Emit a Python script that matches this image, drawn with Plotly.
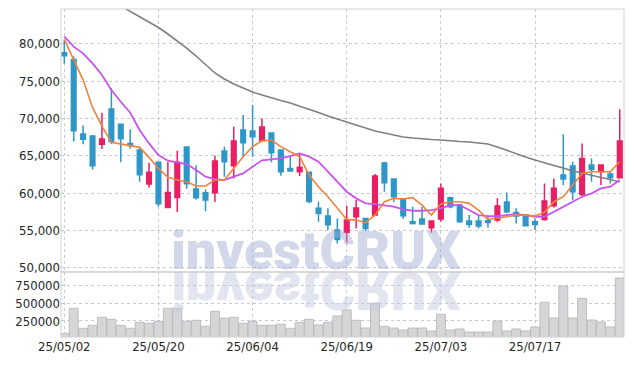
import base64
import plotly.graph_objects as go

dates = ["25/05/02","25/05/07","25/05/08","25/05/09","25/05/12","25/05/13","25/05/14","25/05/15","25/05/16","25/05/19",
         "25/05/20","25/05/21","25/05/22","25/05/23","25/05/26","25/05/27","25/05/28","25/05/29","25/05/30","25/06/02",
         "25/06/04","25/06/05","25/06/09","25/06/10","25/06/11","25/06/12","25/06/13","25/06/16","25/06/17","25/06/18",
         "25/06/19","25/06/20","25/06/23","25/06/24","25/06/25","25/06/26","25/06/27","25/06/30","25/07/01","25/07/02",
         "25/07/03","25/07/04","25/07/07","25/07/08","25/07/09","25/07/10","25/07/11","25/07/14","25/07/15","25/07/16",
         "25/07/17","25/07/18","25/07/21","25/07/22","25/07/23","25/07/24","25/07/25","25/07/28","25/07/29","25/07/30"]

opens = [78800,77900,67900,67630,66520,71250,69200,66650,65760,61210,
         64110,58080,59420,66160,60540,60040,60040,65620,63660,68440,
         68300,67010,68040,65760,63300,62860,62770,57950,56920,55040,
         54730,56830,56610,57050,64020,61880,59200,56160,56520,55360,
         56520,59380,58390,56250,56250,56290,56380,58790,57410,57050,
         56160,56470,58300,62410,63620,59820,63750,62860,62540,62050]
highs = [80500,78300,69050,67770,70760,74020,69200,68530,66030,64060,
         64200,64150,65670,66160,63700,60490,65040,66210,68880,70450,
         71790,70000,68040,65760,64870,65310,62770,58840,57950,56610,
         58300,59060,56610,62540,64200,61880,59290,58170,58170,56250,
         61290,59510,58530,57050,57050,56830,59290,60090,57950,57050,
         56610,61290,61960,67860,64200,66650,64640,63750,62860,71210]
lows = [77300,66900,66550,63170,65890,66560,64110,65940,61520,60760,
        58170,58080,57460,60580,59150,57550,58790,62190,61960,64870,
        64870,67010,64110,62320,62950,62280,58620,56160,55040,53260,
        53390,55270,54910,57050,60180,58840,56560,55800,55850,54690,
        56160,57950,56030,55360,55270,55360,56160,57280,55940,55620,
        55040,56290,58080,61070,59060,59510,61520,61070,61290,62050]
closes = [78400,68350,67200,63660,67230,66920,67280,66380,62460,62770,
          58570,60090,64110,61250,59380,59060,64290,64200,66960,66740,
          67540,68840,65400,62860,62950,63440,58880,57280,55760,53790,
          56380,57990,55270,62280,61380,59510,56960,55940,55850,56250,
          60630,58170,56160,55800,55580,56070,58260,57500,56920,55620,
          55800,58930,60630,61880,60180,64640,63170,63750,62050,66960]

ma5 = [80580,77810,75130,71470,68970,66790,66560,66430,66120,64780,
       63300,62100,61740,61520,60940,60940,61740,61740,63300,64870,
       66210,67010,67100,66210,65540,64870,62410,60850,59510,57950,
       56470,56380,56030,57050,58840,59290,59200,59380,58390,57050,
       58530,58840,58840,58620,57720,56470,56610,56830,57050,57050,
       56920,57410,58840,59510,61070,62630,62860,62860,62860,64200]
ma10 = [80940,79600,78710,77370,75800,73790,72230,70760,68440,66650,
        65090,64330,64110,63880,63080,62190,61880,61740,62190,62630,
        63530,64380,64510,64640,64960,65310,64870,64200,62860,61520,
        60180,59290,58620,58530,58390,58170,57810,57630,57630,57720,
        57950,58390,58390,57720,57050,56920,56920,57050,57190,57050,
        56830,56830,57500,58170,58840,59510,59960,60630,60850,61740]
ma_long = [None,None,None,None,None,None,85050,84310,83580,82910,
           82170,81300,80360,79420,78350,77150,76080,75270,74600,74070,
           73530,73130,72730,72390,72060,71660,71260,70790,70320,69920,
           69520,69050,68650,68310,68040,67780,67510,67370,67240,67170,
           67110,66970,66900,66840,66700,66570,66170,65700,65230,64830,
           64430,64020,63690,63360,62960,62690,62350,62080,61820,61480]

volume = [75000,429000,146000,188000,302000,273000,188000,146000,231000,217000,
          245000,429000,429000,245000,259000,174000,387000,288000,302000,217000,
          245000,188000,188000,203000,146000,231000,273000,193000,231000,320000,
          405000,259000,150000,500000,174000,150000,122000,150000,150000,108000,
          344000,122000,136000,93000,93000,93000,249000,108000,136000,108000,
          164000,514000,292000,745000,292000,571000,263000,235000,164000,858000]

price_ticks = [50000, 55000, 60000, 65000, 70000, 75000, 80000]
volume_ticks = [250000, 500000, 750000]
tick_idx = [0, 10, 20, 30, 40, 50]

UP = "#e91e63"
DOWN = "#2f96c8"
GRID = "#c5cadb"
FONT = dict(family="Liberation Sans Narrow, DejaVu Sans Condensed, sans-serif", size=13, color="#262626")

fig = go.Figure()
fig.add_trace(go.Bar(x=dates, y=volume, xaxis="x", yaxis="y2",
                     marker=dict(color="#d6d6d8", line=dict(color="#bdbdbf", width=1)),
                     showlegend=False, hoverinfo="skip"))
fig.add_trace(go.Candlestick(x=dates, open=opens, high=highs, low=lows, close=closes,
                             xaxis="x", yaxis="y",
                             increasing=dict(line=dict(color=UP, width=1.5), fillcolor=UP),
                             decreasing=dict(line=dict(color=DOWN, width=1.5), fillcolor=DOWN),
                             showlegend=False))
fig.add_trace(go.Scatter(x=dates, y=ma_long, mode="lines", line=dict(color="#7f7f7f", width=1.6),
                         xaxis="x", yaxis="y", showlegend=False, connectgaps=False))
fig.add_trace(go.Scatter(x=dates, y=ma10, mode="lines", line=dict(color="#c953ee", width=1.8),
                         xaxis="x", yaxis="y", showlegend=False))
fig.add_trace(go.Scatter(x=dates, y=ma5, mode="lines", line=dict(color="#f0823c", width=1.6),
                         xaxis="x", yaxis="y", showlegend=False))

split = (337 - 272) / 328.0

fig.update_layout(
    width=634, height=366,
    margin=dict(l=61, r=10, t=9, b=29),
    paper_bgcolor="white", plot_bgcolor="white",
    font=FONT,
    bargap=0.05,
    xaxis=dict(type="category", range=[-0.35, 59.45], anchor="y2", automargin=False,
               tickmode="array", tickvals=[dates[i] for i in tick_idx],
               ticktext=[dates[i] for i in tick_idx],
               showgrid=True, gridcolor=GRID, griddash="dot", gridwidth=1,
               rangeslider=dict(visible=False), showline=False, zeroline=False,
               ticks="", tickfont=FONT),
    yaxis=dict(domain=[split, 1], range=[49430, 84646], tickmode="array", tickvals=price_ticks,
               tickformat=",d", showgrid=True, gridcolor=GRID, griddash="dot", gridwidth=1,
               zeroline=False, ticks="", tickfont=FONT, automargin=False),
    yaxis2=dict(domain=[0, split], range=[22700, 943300], tickmode="array", tickvals=volume_ticks,
                tickformat="d", showgrid=True, gridcolor=GRID, griddash="dot", gridwidth=1,
                zeroline=False, ticks="", tickfont=FONT, automargin=False),
    hovermode=False,
)

fig.add_shape(type="rect", xref="paper", yref="paper", x0=0, x1=1, y0=0, y1=1,
              line=dict(color="#d2d2d2", width=1))
fig.add_shape(type="line", xref="paper", yref="paper", x0=0, x1=1, y0=split, y1=split,
              line=dict(color="#cccccc", width=1.5))

# watermark
fig.add_annotation(text="investCRUX", xref="paper", yref="paper", x=(316 - 61) / 563.0,
                   y=(337 - 250) / 328.0, xanchor="center", yanchor="middle", showarrow=False,
                   font=dict(family="Roboto, Liberation Sans, sans-serif", size=54, weight=900,
                             color="rgba(160,172,210,0.48)"))

svg = ('<svg xmlns="http://www.w3.org/2000/svg" width="563" height="328" viewBox="0 0 563 328">'
       '<g transform="translate(0,526) scale(1,-1)">'
       '<text x="255" y="263" text-anchor="middle" font-family="Roboto, Liberation Sans, sans-serif" '
       'font-weight="900" font-size="54" fill="#c6cadf" fill-opacity="0.5">investCRUX</text>'
       '</g></svg>')
src = "data:image/svg+xml;base64," + base64.b64encode(svg.encode()).decode()
fig.add_layout_image(source=src, xref="paper", yref="paper", x=0, y=1, sizex=1, sizey=1,
                     xanchor="left", yanchor="top", sizing="stretch", layer="above")

fig.write_html("out.html", config={"displayModeBar": False},
               post_script="document.body.style.margin='0';document.body.style.overflow='hidden';")
